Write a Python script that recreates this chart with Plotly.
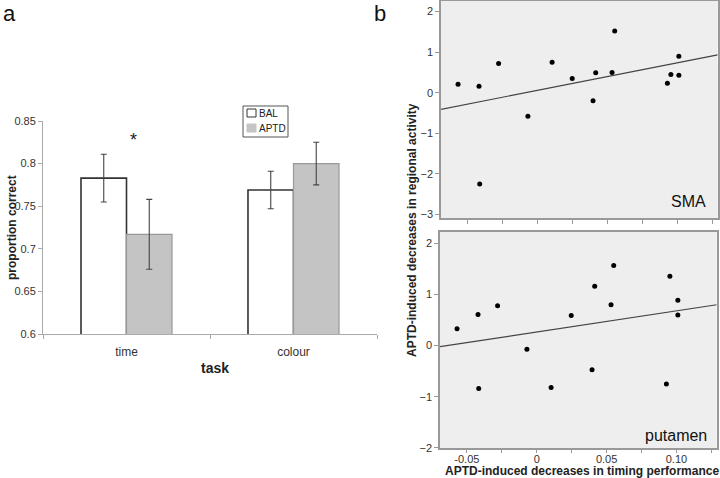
import plotly.graph_objects as go

# ---- Panel a data ----
tasks = ["time", "colour"]
bal_mean = [0.783, 0.769]
bal_err = [0.028, 0.022]
aptd_mean = [0.717, 0.800]
aptd_err = [0.041, 0.025]

# ---- Panel b data ----
timing = [-0.057, -0.042, -0.028, -0.0415, -0.007, 0.0103, 0.0247, 0.0415,
          0.0396, 0.0532, 0.0551, 0.0928, 0.0953, 0.101, 0.101]
sma = [0.21, 0.16, 0.72, -2.25, -0.58, 0.75, 0.35, 0.49,
       -0.20, 0.50, 1.52, 0.23, 0.45, 0.90, 0.43]
putamen = [0.33, 0.61, 0.78, -0.84, -0.07, -0.82, 0.59, 1.16,
           -0.47, 0.80, 1.57, -0.75, 1.36, 0.89, 0.60]
fit_x = [-0.0692, 0.1288]
sma_fit = [-0.41, 0.93]
putamen_fit = [-0.02, 0.80]

W, H = 720, 478
def px(x): return x / W
def py(y): return 1 - y / H

FONT = "Liberation Sans, Arial, sans-serif"
fig = go.Figure()

# Bars
fig.add_trace(go.Bar(x=tasks, y=bal_mean, name="BAL", xaxis="x", yaxis="y",
                     marker=dict(color="white", line=dict(color="#333333", width=1.6)),
                     error_y=dict(type="data", array=bal_err, color="#444444", thickness=1.1, width=3),
                     showlegend=False))
fig.add_trace(go.Bar(x=tasks, y=aptd_mean, name="APTD", xaxis="x", yaxis="y",
                     marker=dict(color="#c4c4c4", line=dict(color="#999999", width=1.2)),
                     error_y=dict(type="data", array=aptd_err, color="#444444", thickness=1.1, width=3),
                     showlegend=False))

# Scatter SMA
fig.add_trace(go.Scatter(x=timing, y=sma, mode="markers", xaxis="x2", yaxis="y2",
                         marker=dict(color="black", size=5), showlegend=False))
fig.add_trace(go.Scatter(x=fit_x, y=sma_fit, mode="lines", xaxis="x2", yaxis="y2",
                         line=dict(color="#444444", width=1.2), showlegend=False))
# Scatter putamen
fig.add_trace(go.Scatter(x=timing, y=putamen, mode="markers", xaxis="x3", yaxis="y3",
                         marker=dict(color="black", size=5), showlegend=False))
fig.add_trace(go.Scatter(x=fit_x, y=putamen_fit, mode="lines", xaxis="x3", yaxis="y3",
                         line=dict(color="#444444", width=1.2), showlegend=False))

xt_vals = [-0.05, -0.025, 0, 0.025, 0.05, 0.075, 0.1, 0.125]
xt_text = ["-0.05", "", "0", "", "0.05", "", "0.10", ""]

axis_font = dict(family=FONT, size=11, color="#333333")

fig.update_layout(
    width=W, height=H, margin=dict(l=0, r=0, t=0, b=0, autoexpand=False),
    paper_bgcolor="white", plot_bgcolor="white",
    font=dict(family=FONT, color="#222222"),
    barmode="group", bargap=0.455, bargroupgap=0,
    xaxis=dict(domain=[px(43), px(377)], anchor="y", showline=True, linecolor="#aaaaaa",
               linewidth=1, ticks="outside", tickson="boundaries", ticklen=4,
               ticklabelstandoff=7,
               tickcolor="#aaaaaa", tickfont=dict(family=FONT, size=12, color="#333333"),
               automargin=False,
               showgrid=False, zeroline=False, fixedrange=True),
    yaxis=dict(domain=[py(334), py(121)], anchor="x", range=[0.6, 0.85],
               tickvals=[0.6, 0.65, 0.7, 0.75, 0.8, 0.85],
               ticktext=["0.6", "0.65", "0.7", "0.75", "0.8", "0.85"],
               showline=True, linecolor="#aaaaaa", linewidth=1, ticks="outside",
               ticklen=4, tickcolor="#aaaaaa", tickfont=axis_font, automargin=False,
               showgrid=False, zeroline=False),
    xaxis2=dict(domain=[px(441), px(717.7)], anchor="y2", range=[-0.0692, 0.1288],
                tickvals=xt_vals, ticktext=[""] * len(xt_vals), ticks="outside", ticklen=4,
                tickcolor="#999999", showline=True, mirror=True, linecolor="#999999",
                linewidth=1.5, showgrid=False, zeroline=False, automargin=False),
    yaxis2=dict(domain=[py(218), py(1)], anchor="x2", range=[-3.09, 2.26],
                tickvals=[-3, -2, -1, 0, 1, 2], ticks="outside", ticklen=4,
                tickcolor="#999999", tickfont=axis_font, showline=True, mirror=True,
                linecolor="#999999", linewidth=1.5, showgrid=False, zeroline=False,
                automargin=False),
    xaxis3=dict(domain=[px(440), px(716.7)], anchor="y3", range=[-0.0692, 0.1288],
                tickvals=xt_vals, ticktext=xt_text, ticks="outside", ticklen=3,
                ticklabelstandoff=-3,
                tickcolor="#999999", tickfont=axis_font, showline=True, mirror=True,
                linecolor="#999999", linewidth=1.5, showgrid=False, zeroline=False,
                automargin=False),
    yaxis3=dict(domain=[py(448.3), py(231.7)], anchor="x3", range=[-2.01, 2.23],
                tickvals=[-2, -1, 0, 1, 2], ticks="outside", ticklen=4,
                tickcolor="#999999", tickfont=axis_font, showline=True, mirror=True,
                linecolor="#999999", linewidth=1.5, showgrid=False, zeroline=False,
                automargin=False),
)

shapes = []
# scatter backgrounds
for (x0, x1, y0, y1) in [(441, 717.7, 1, 218), (440, 716.7, 231.7, 448.3)]:
    shapes.append(dict(type="rect", xref="paper", yref="paper", x0=px(x0), x1=px(x1),
                       y0=py(y1), y1=py(y0), fillcolor="#eeeeee", line=dict(width=0),
                       layer="below"))
# legend box
shapes.append(dict(type="rect", xref="paper", yref="paper", x0=px(243), x1=px(288),
                   y0=py(137), y1=py(106), line=dict(color="#555555", width=1),
                   fillcolor="white"))
shapes.append(dict(type="rect", xref="paper", yref="paper", x0=px(247), x1=px(256),
                   y0=py(117), y1=py(109), line=dict(color="#333333", width=1),
                   fillcolor="white"))
shapes.append(dict(type="rect", xref="paper", yref="paper", x0=px(247), x1=px(256),
                   y0=py(132), y1=py(124), line=dict(color="#c4c4c4", width=1),
                   fillcolor="#c4c4c4"))
fig.update_layout(shapes=shapes)

annotations = [
    dict(text="a", x=px(2), y=1, xref="paper", yref="paper", xanchor="left",
         yanchor="top", borderpad=0, showarrow=False,
         font=dict(family=FONT, size=22, color="#111111")),
    dict(text="b", x=px(373), y=1, xref="paper", yref="paper", xanchor="left",
         yanchor="top", borderpad=0, showarrow=False,
         font=dict(family=FONT, size=22, color="#111111")),
    dict(text="BAL", x=px(257), y=py(113.5), xref="paper", yref="paper", xanchor="left",
         yanchor="middle", showarrow=False, font=dict(family=FONT, size=10, color="#222222")),
    dict(text="APTD", x=px(257), y=py(128.5), xref="paper", yref="paper", xanchor="left",
         yanchor="middle", showarrow=False, font=dict(family=FONT, size=10, color="#222222")),
    dict(text="*", x=px(133), y=py(140), xref="paper", yref="paper", xanchor="center",
         yanchor="middle", showarrow=False, font=dict(family=FONT, size=18, color="#222222")),
    dict(text="SMA", x=px(708), y=py(202), xref="paper", yref="paper", xanchor="right",
         yanchor="middle", showarrow=False, font=dict(family=FONT, size=16, color="#111111")),
    dict(text="putamen", x=px(709), y=py(435), xref="paper", yref="paper", xanchor="right",
         yanchor="middle", showarrow=False, font=dict(family=FONT, size=16, color="#111111")),
    dict(text="<b>proportion correct</b>", x=px(12), y=py(228),
         xref="paper", yref="paper", xanchor="center", yanchor="middle", textangle=-90,
         showarrow=False, font=dict(family=FONT, size=12, color="#222222")),
    dict(text="<b>task</b>", x=px(215), y=py(368),
         xref="paper", yref="paper", xanchor="center", yanchor="middle",
         showarrow=False, font=dict(family=FONT, size=14, color="#222222")),
    dict(text="<b>APTD-induced decreases in regional activity</b>", x=px(412), y=py(230),
         xref="paper", yref="paper", xanchor="center", yanchor="middle", textangle=-90,
         showarrow=False, font=dict(family=FONT, size=12, color="#222222")),
    dict(text="<b>APTD-induced decreases in timing performance</b>", x=px(582), y=py(471),
         xref="paper", yref="paper", xanchor="center", yanchor="middle",
         showarrow=False, font=dict(family=FONT, size=12, color="#222222")),
]
fig.update_layout(annotations=annotations)

fig.write_html(
    "out.html",
    config={"responsive": False, "displayModeBar": False},
    post_script="document.body.style.margin='0';document.body.style.padding='0';"
                "document.body.style.overflow='hidden';",
)
